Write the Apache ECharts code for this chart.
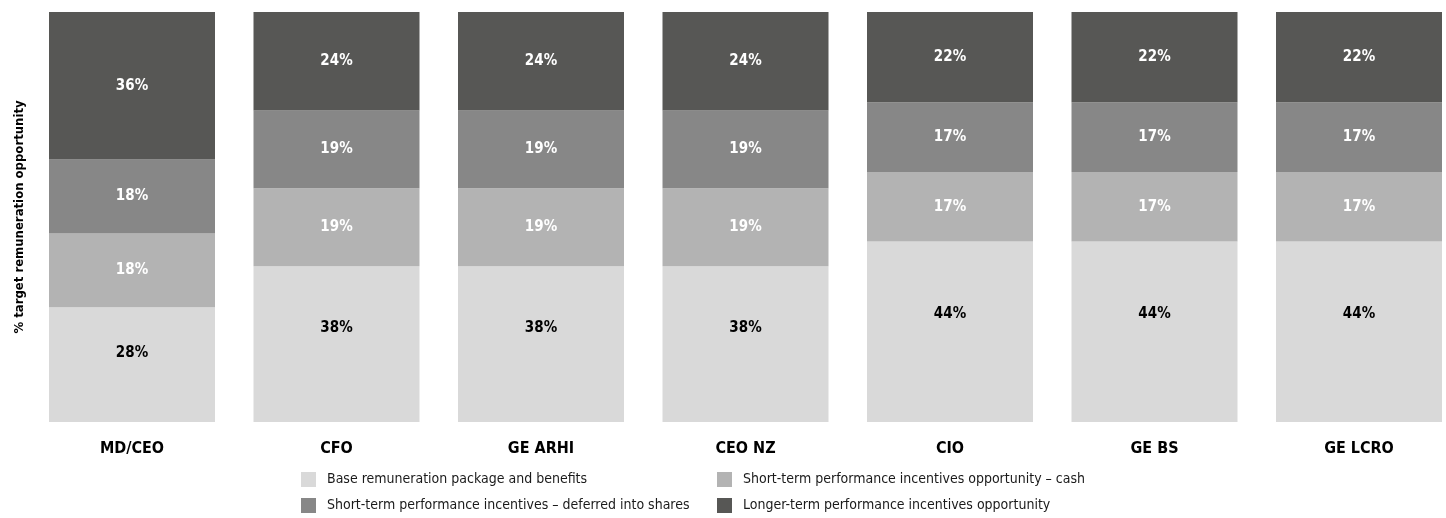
<!DOCTYPE html>
<html>
<head>
<meta charset="utf-8">
<script src="https://cdn.jsdelivr.net/npm/echarts@6/dist/echarts.min.js"></script>
<style>
  html, body { margin: 0; padding: 0; background: #ffffff; }
  #chart { width: 1446px; height: 518px; }
</style>
</head>
<body>
<div id="chart"></div>
<script>
// Executive roles shown along the x axis
var roles = ['MD/CEO', 'CFO', 'GE ARHI', 'CEO NZ', 'CIO', 'GE BS', 'GE LCRO'];

// Share of target remuneration opportunity (%) for each component
var baseRemuneration = [28, 38, 38, 38, 44, 44, 44];
var stiCash          = [18, 19, 19, 19, 17, 17, 17];
var stiDeferred      = [18, 19, 19, 19, 17, 17, 17];
var ltiOpportunity   = [36, 24, 24, 24, 22, 22, 22];

var seriesNames = [
  'Base remuneration package and benefits',
  'Short-term performance incentives opportunity \u2013 cash',
  'Short-term performance incentives \u2013 deferred into shares',
  'Longer-term performance incentives opportunity'
];

var FONT = '"DejaVu Sans Condensed", "Liberation Sans Narrow", sans-serif';

function stackSeries(name, values, color, labelColor, labelPos) {
  return {
    name: name,
    type: 'bar',
    stack: 'total',
    data: values,
    barWidth: 166,
    clip: false,
    itemStyle: { color: color },
    label: {
      show: true,
      position: labelPos,
      align: 'center',
      verticalAlign: 'middle',
      formatter: '{c}%',
      color: labelColor,
      fontFamily: FONT,
      fontWeight: 'bold',
      fontSize: 15
    },
    emphasis: { disabled: true }
  };
}

var legendText = {
  fontFamily: FONT, fontSize: 14, lineHeight: 15, color: '#1a1a1a',
  padding: [0, 0, 0, 6]
};

function legendColumn(left, names) {
  return {
    orient: 'vertical', left: left, top: 472, padding: 0,
    itemWidth: 15, itemHeight: 15, itemGap: 11,
    icon: 'rect', selectedMode: false, textStyle: legendText,
    data: names
  };
}

var chart = echarts.init(document.getElementById('chart'), null, { renderer: 'canvas' });
chart.setOption({
  animation: false,
  backgroundColor: '#ffffff',
  // Ticks sit on the bar centres; the grid spans the first to the last bar centre
  grid: { left: 132, top: 12, width: 1227, height: 410, outerBoundsMode: 'none' },
  legend: [
    legendColumn(301, [seriesNames[0], seriesNames[2]]),
    legendColumn(717, [seriesNames[1], seriesNames[3]])
  ],
  xAxis: {
    type: 'category',
    data: roles,
    boundaryGap: false,
    axisLine: { show: false },
    axisTick: { show: false },
    axisLabel: {
      margin: 19,
      color: '#000000',
      fontFamily: FONT,
      fontWeight: 'bold',
      fontSize: 16
    }
  },
  yAxis: {
    type: 'value',
    min: 0,
    max: 100,
    name: '% target remuneration opportunity',
    nameLocation: 'middle',
    nameGap: 106,
    nameTextStyle: { color: '#000000', fontFamily: FONT, fontWeight: 'bold', fontSize: 13 },
    axisLine: { show: false },
    axisTick: { show: false },
    axisLabel: { show: false },
    splitLine: { show: false }
  },
  series: [
    stackSeries(seriesNames[0], baseRemuneration, '#d9d9d9', '#000000', ['50%', '40%']),
    stackSeries(seriesNames[1], stiCash, '#b3b3b3', '#ffffff', 'inside'),
    stackSeries(seriesNames[2], stiDeferred, '#878787', '#ffffff', 'inside'),
    stackSeries(seriesNames[3], ltiOpportunity, '#575755', '#ffffff', 'inside')
  ]
});
</script>
</body>
</html>
